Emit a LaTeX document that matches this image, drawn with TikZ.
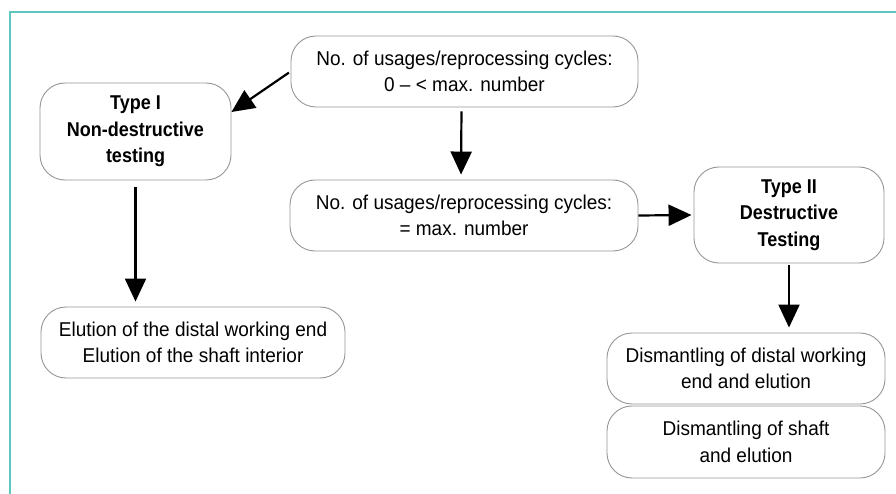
\documentclass[tikz,border=0pt]{standalone}
\usepackage{fontspec}
\setmainfont{Liberation Sans}[FakeStretch=0.95, BoldFeatures={FakeStretch=0.9}]
\usetikzlibrary{arrows.meta,calc}
\definecolor{frameteal}{RGB}{94,200,192}
\definecolor{boxgray}{RGB}{150,150,150}
\tikzset{
  rbox/.style={draw=boxgray, line width=0.9pt, rounded corners=25pt, fill=white,
    align=center, inner sep=0pt, font=\fontsize{20}{26.5}\selectfont},
  arr/.style={line width=2.2pt, -{Triangle[length=23pt,width=21pt]}},
}
\begin{document}
\begin{tikzpicture}[x=1pt,y=-1pt]
\useasboundingbox (0,0) rectangle (896,494);
\fill[white] (0,0) rectangle (896,494);
\draw[frameteal, line width=1.6pt] (10,494) -- (10,12) -- (896,12);

\node[rbox, minimum width=191pt, minimum height=97pt] (A) at (135.5,131.5)
  {\bfseries Type I\\\bfseries Non-destructive\\\bfseries testing};
\node[rbox, minimum width=347pt, minimum height=71pt] (B) at (464.5,71.5)
  {No. of usages/reprocessing cycles:\\0 -- < max. number};
\node[rbox, minimum width=348pt, minimum height=71pt] (C) at (464,215.5)
  {No. of usages/reprocessing cycles:\\= max. number};
\node[rbox, minimum width=190pt, minimum height=96pt] (D) at (789,215)
  {\bfseries Type II\\\bfseries Destructive\\\bfseries Testing};
\node[rbox, minimum width=304pt, minimum height=71pt] (E) at (193,342.5)
  {Elution of the distal working end\\Elution of the shaft interior};
\node[rbox, minimum width=278pt, minimum height=71pt] (F) at (746,368.5)
  {Dismantling of distal working\\end and elution};
\node[rbox, minimum width=278pt, minimum height=72pt] (G) at (746,442)
  {Dismantling of shaft\\and elution};

\draw[arr, shorten <=2pt] (B.west) -- ([yshift=19.5pt]A.east);
\draw[arr, shorten <=4pt, shorten >=5pt] ([xshift=-3pt]B.south) -- ([xshift=-3pt]C.north);
\draw[arr, shorten >=2pt] (C.east) -- (D.west);
\draw[arr, shorten <=7pt, shorten >=5pt] (A.south) -- (A.south |- E.north);
\draw[arr, shorten <=2pt, shorten >=5pt] (D.south) -- (D.south |- F.north);
\end{tikzpicture}
\end{document}
